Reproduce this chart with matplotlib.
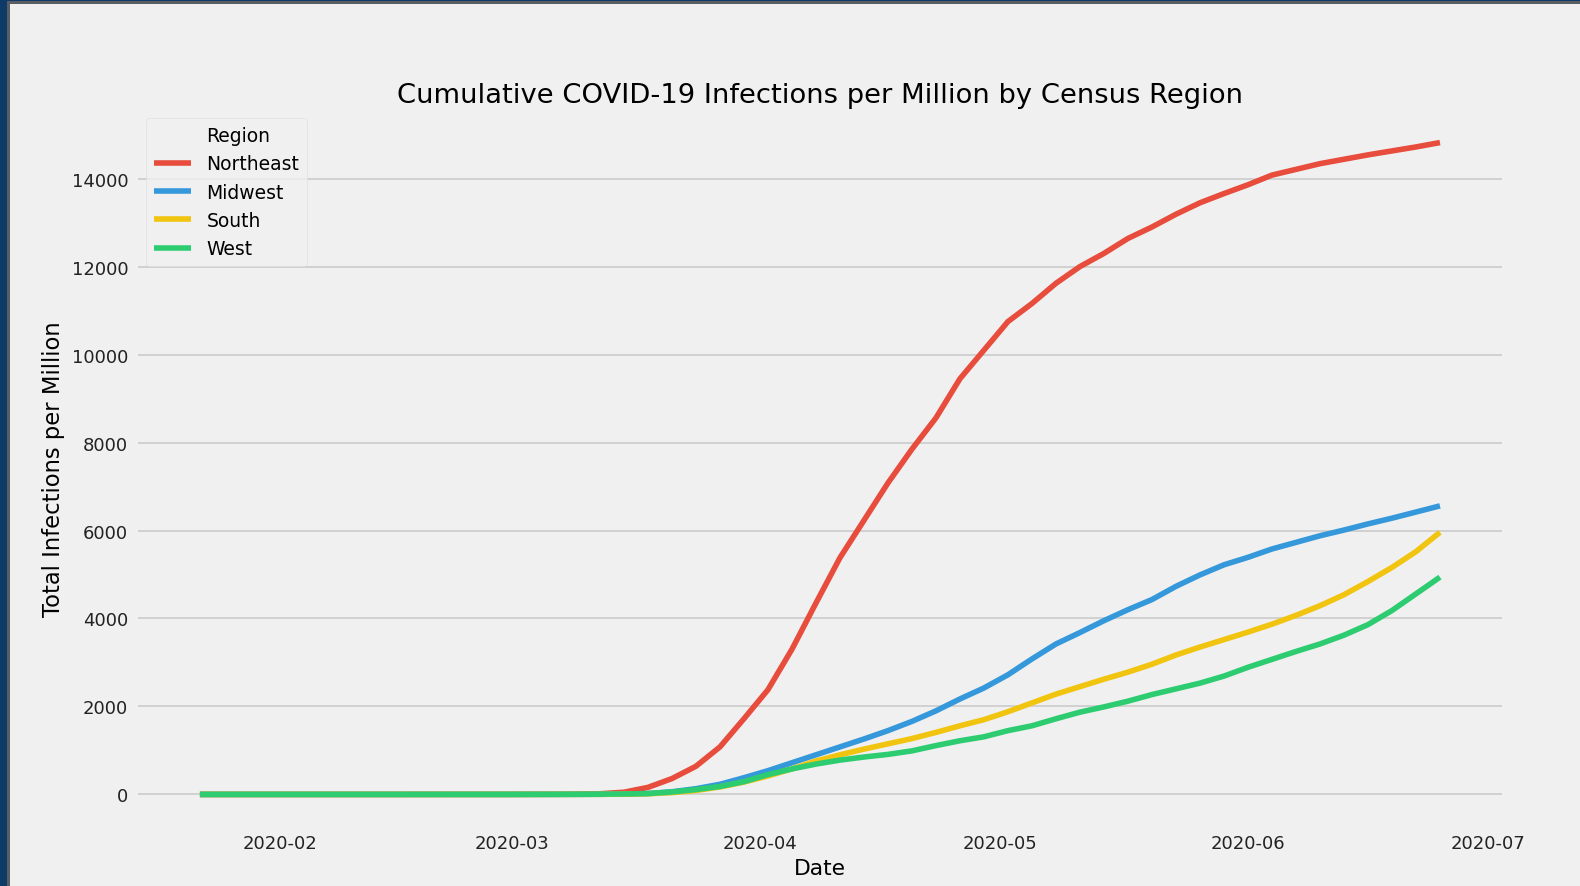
import matplotlib
matplotlib.use("Agg")
import matplotlib.dates as mdates
import matplotlib.pyplot as plt
from matplotlib.lines import Line2D
from matplotlib.patches import Rectangle
import pandas as pd

# Sample dates (cumulative cases per million, by census region).
dates = [
    "2020-01-22", "2020-02-01", "2020-02-15", "2020-03-01", "2020-03-08",
    "2020-03-12", "2020-03-15", "2020-03-18", "2020-03-21", "2020-03-24",
    "2020-03-27", "2020-03-30", "2020-04-02", "2020-04-05", "2020-04-08",
    "2020-04-11", "2020-04-14", "2020-04-17", "2020-04-20", "2020-04-23",
    "2020-04-26", "2020-04-29", "2020-05-02", "2020-05-05", "2020-05-08",
    "2020-05-11", "2020-05-14", "2020-05-17", "2020-05-20", "2020-05-23",
    "2020-05-26", "2020-05-29", "2020-06-01", "2020-06-04", "2020-06-07",
    "2020-06-10", "2020-06-13", "2020-06-16", "2020-06-19", "2020-06-22",
    "2020-06-25",
]

northeast = [
    0, 0, 0, 1, 4, 15, 50, 160, 360, 640,
    1080, 1720, 2380, 3300, 4350, 5380, 6230, 7080, 7850, 8560,
    9450, 10100, 10750, 11160, 11620, 12000, 12300, 12640, 12900, 13190,
    13450, 13660, 13860, 14080, 14210, 14340, 14440, 14540, 14630, 14720,
    14820,
]
midwest = [
    0, 0, 0, 0, 1, 3, 8, 20, 60, 130,
    230, 380, 540, 720, 900, 1080, 1260, 1450, 1660, 1900,
    2170, 2420, 2720, 3080, 3420, 3680, 3950, 4200, 4430, 4730,
    4990, 5220, 5390, 5580, 5730, 5880, 6010, 6150, 6280, 6420,
    6560,
]
south = [
    0, 0, 0, 0, 1, 2, 6, 15, 40, 90,
    170, 280, 420, 580, 760, 900, 1030, 1150, 1270, 1410,
    1560, 1700, 1880, 2080, 2280, 2450, 2620, 2780, 2960, 3170,
    3350, 3520, 3690, 3870, 4070, 4290, 4540, 4840, 5160, 5520,
    5960,
]
west = [
    0, 0, 0, 1, 2, 5, 10, 20, 55, 110,
    180, 290, 450, 580, 690, 780, 850, 910, 990, 1110,
    1220, 1310, 1450, 1560, 1720, 1870, 1990, 2120, 2270, 2400,
    2530, 2690, 2890, 3070, 3250, 3420, 3620, 3860, 4180, 4560,
    4940,
]

regions = ["Northeast", "Midwest", "South", "West"]
colors = ["#e74c3c", "#3498db", "#f1c40f", "#2ecc71"]

plt.style.use("fivethirtyeight")
plt.rcParams["font.family"] = ["DejaVu Sans"]

fig = plt.figure(figsize=(15.8, 8.87), dpi=100)
fig.patch.set_facecolor("#f0f0f0")
ax = fig.add_axes([0.0873, 0.0665, 0.8633, 0.8084])
ax.set_facecolor("#f0f0f0")

x = pd.to_datetime(dates)
handles = [Line2D([], [], color="none")]
for series, name, color in zip([northeast, midwest, south, west], regions, colors):
    (line,) = ax.plot(x, series, color=color, linewidth=4, label=name)
    handles.append(line)

ax.grid(False)
ax.grid(True, axis="y", color="#cbcbcb", linewidth=1.2)
ax.xaxis.set_major_locator(mdates.MonthLocator())
ax.xaxis.set_major_formatter(mdates.DateFormatter("%Y-%m"))
ax.tick_params(axis="both", labelsize=13, length=0, colors="#222222")
ax.tick_params(axis="y", pad=7)
ax.tick_params(axis="x", pad=5)
for spine in ax.spines.values():
    spine.set_visible(False)

ax.set_title("Cumulative COVID-19 Infections per Million by Census Region",
             fontsize=19.7, pad=6)
ax.set_xlabel("Date", fontsize=15.7, labelpad=4)
ax.set_ylabel("Total Infections per Million", fontsize=16.3, labelpad=5)

ax.legend(handles, ["Region"] + regions, loc="upper left", fontsize=13.5,
          facecolor="#f0f0f0", edgecolor="#dddddd", framealpha=0.8,
          borderaxespad=0.45, handlelength=2.0, labelspacing=0.5)

# Slide frame seen at the top and left edges of the screenshot.
fig.patches.append(Rectangle((0, 0), 7 / 1580, 1, transform=fig.transFigure,
                             facecolor="#0d3a66", edgecolor="none", zorder=10))
fig.patches.append(Rectangle((7 / 1580, 0), 3 / 1580, 1 - 2 / 887,
                             transform=fig.transFigure, facecolor="#5a5d62",
                             edgecolor="none", zorder=10))
fig.patches.append(Rectangle((0, 1 - 2 / 887), 1, 2 / 887, transform=fig.transFigure,
                             facecolor="#0d3a66", edgecolor="none", zorder=10))
fig.patches.append(Rectangle((7 / 1580, 1 - 5 / 887), 1, 3 / 887,
                             transform=fig.transFigure, facecolor="#5a5d62",
                             edgecolor="none", zorder=10))

fig.savefig("out.png", dpi=100, facecolor=fig.get_facecolor())
